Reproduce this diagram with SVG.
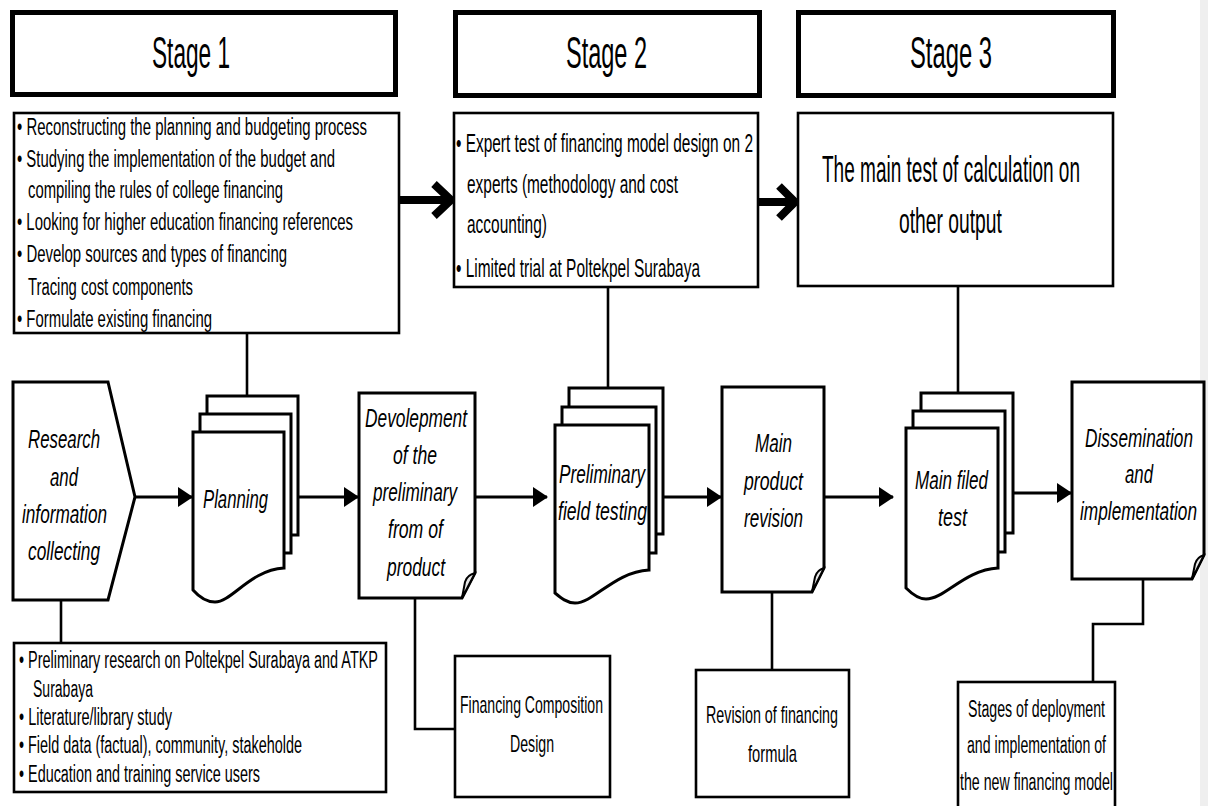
<svg xmlns="http://www.w3.org/2000/svg" width="1208" height="806" viewBox="0 0 1208 806">
<defs>
<style>
.hdr{fill:#fff;stroke:#000;stroke-width:5}
.box{fill:#fff;stroke:#000;stroke-width:2.6}
.shp{fill:#fff;stroke:#000;stroke-width:3;stroke-linejoin:miter}
.curl{fill:#e6e6e6;stroke:#000;stroke-width:2}
.ln{fill:none;stroke:#000;stroke-width:2.6}
.arr{fill:none;stroke:#000;stroke-width:3}
.thick{fill:none;stroke:#000;stroke-width:8;stroke-linejoin:miter}
text{font-family:"Liberation Sans Narrow","Liberation Sans",Arial,sans-serif;fill:#000}
text.ls{font-family:"Liberation Sans",Arial,sans-serif}
.st{font-size:45px}
.t1{font-size:23px}
.t2{font-size:26px}
.t3{font-size:36px}
.it{font-size:26px;font-style:italic}
.sm{font-size:24px}
</style>
<marker id="ah" markerUnits="userSpaceOnUse" markerWidth="15" markerHeight="20" refX="14" refY="10" orient="auto">
<path d="M0,0 L15,10 L0,20 Z" fill="#000"/>
</marker>
</defs>
<rect x="0" y="0" width="1208" height="806" fill="#fff"/>
<rect x="1200" y="0" width="8" height="806" fill="#efefef"/>

<g id="connectors">
<line class="ln" x1="247" y1="334" x2="247" y2="414"/>
<line class="ln" x1="608" y1="288" x2="608" y2="420"/>
<line class="ln" x1="958" y1="287" x2="958" y2="410"/>
<line class="ln" x1="61" y1="600" x2="61" y2="642"/>
<polyline class="ln" points="415,598 415,729 455,729"/>
<line class="ln" x1="772" y1="592" x2="772" y2="670"/>
<polyline class="ln" points="1143,579 1143,624 1093,624 1093,682"/>
<line class="arr" x1="135" y1="497" x2="192" y2="497" marker-end="url(#ah)"/>
<line class="arr" x1="298" y1="497" x2="358" y2="497" marker-end="url(#ah)"/>
<line class="arr" x1="475" y1="497" x2="547" y2="497" marker-end="url(#ah)"/>
<line class="arr" x1="656" y1="497" x2="721" y2="497" marker-end="url(#ah)"/>
<line class="arr" x1="824" y1="497" x2="893" y2="497" marker-end="url(#ah)"/>
<line class="arr" x1="1001" y1="493" x2="1071" y2="493" marker-end="url(#ah)"/>
<path class="thick" d="M400,200 H447"/>
<polyline class="thick" points="434,184 451,200 434,216"/>
<path class="thick" d="M759,202 H791"/>
<polyline class="thick" points="779,186 795,202 779,218"/>
</g>

<g id="stage1-header">
<rect class="hdr" x="12.5" y="12.5" width="383" height="82"/>
<text class="st" x="152" y="68" textLength="78" lengthAdjust="spacingAndGlyphs">Stage 1</text>
</g>
<g id="stage2-header">
<rect class="hdr" x="455.5" y="12.5" width="304" height="83"/>
<text class="st" x="566" y="68" textLength="81" lengthAdjust="spacingAndGlyphs">Stage 2</text>
</g>
<g id="stage3-header">
<rect class="hdr" x="798.5" y="12.5" width="315" height="83"/>
<text class="st" x="910" y="68" textLength="82" lengthAdjust="spacingAndGlyphs">Stage 3</text>
</g>

<g id="stage1-box">
<rect class="box" x="14" y="113" width="385" height="220"/>
<text class="t1" x="17" y="135" textLength="350" lengthAdjust="spacingAndGlyphs">• Reconstructing the planning and budgeting process</text>
<text class="t1" x="17" y="167" textLength="318" lengthAdjust="spacingAndGlyphs">• Studying the implementation of the budget and</text>
<text class="t1" x="28" y="198" textLength="255" lengthAdjust="spacingAndGlyphs">compiling the rules of college financing</text>
<text class="t1" x="17" y="230" textLength="336" lengthAdjust="spacingAndGlyphs">• Looking for higher education financing references</text>
<text class="t1" x="17" y="262" textLength="270" lengthAdjust="spacingAndGlyphs">• Develop sources and types of financing</text>
<text class="t1" x="28" y="295" textLength="165" lengthAdjust="spacingAndGlyphs">Tracing cost components</text>
<text class="t1" x="17" y="327" textLength="195" lengthAdjust="spacingAndGlyphs">• Formulate existing financing</text>
</g>

<g id="stage2-box">
<rect class="box" x="454" y="113" width="304" height="174"/>
<text class="t2" x="456" y="152" textLength="297" lengthAdjust="spacingAndGlyphs">• Expert test of financing model design on 2</text>
<text class="t2 ls" transform="translate(467,193) scale(0.59,1)" textLength="357.6" lengthAdjust="spacingAndGlyphs">experts (methodology and cost</text>
<text class="t2 ls" transform="translate(467,233) scale(0.6,1)" textLength="133.3" lengthAdjust="spacingAndGlyphs">accounting)</text>
<text class="t2" x="456" y="277" textLength="244" lengthAdjust="spacingAndGlyphs">• Limited trial at Poltekpel Surabaya</text>
</g>

<g id="stage3-box">
<rect class="box" x="798" y="113" width="315" height="173"/>
<text class="t3 ls" transform="translate(822,182) scale(0.53,1)" textLength="486.8" lengthAdjust="spacingAndGlyphs">The main test of calculation on</text>
<text class="t3 ls" transform="translate(899,233) scale(0.536,1)" textLength="192" lengthAdjust="spacingAndGlyphs">other output</text>
</g>

<g id="research">
<path class="shp" d="M13,382 H108 L135,497 L108,600 H13 Z"/>
<text class="it" x="28" y="448" textLength="72" lengthAdjust="spacingAndGlyphs">Research</text>
<text class="it" x="50" y="486" textLength="28" lengthAdjust="spacingAndGlyphs">and</text>
<text class="it" x="22" y="523" textLength="85" lengthAdjust="spacingAndGlyphs">information</text>
<text class="it" x="28" y="560" textLength="72" lengthAdjust="spacingAndGlyphs">collecting</text>
</g>

<g id="planning">
<path class="shp" d="M207,396 H298 V535 H207 Z"/>
<path class="shp" d="M200,414 H291 V553 H200 Z"/>
<path class="shp" d="M193,432 H284 V568 C250,570 232,602 215,602 C207,602 200,598 193,590 Z"/>
<text class="it" x="203" y="508" textLength="65" lengthAdjust="spacingAndGlyphs">Planning</text>
</g>

<g id="development">
<path class="shp" d="M359,393 H475 V573 L462,598 H359 Z"/>
<path class="curl" d="M475,573 L462,598 L465,582 Q467,575 475,573 Z"/>
<text class="it" x="365" y="427" textLength="102" lengthAdjust="spacingAndGlyphs">Devolepment</text>
<text class="it" x="393" y="464" textLength="44" lengthAdjust="spacingAndGlyphs">of the</text>
<text class="it" x="373" y="501" textLength="84" lengthAdjust="spacingAndGlyphs">preliminary</text>
<text class="it" x="388" y="538" textLength="55" lengthAdjust="spacingAndGlyphs">from of</text>
<text class="it" x="387" y="576" textLength="58" lengthAdjust="spacingAndGlyphs">product</text>
</g>

<g id="preliminary-field-testing">
<path class="shp" d="M569,388 H663 V534 H569 Z"/>
<path class="shp" d="M562,407 H656 V553 H562 Z"/>
<path class="shp" d="M555,425 H649 V570 C614,572 594,603 575,603 C567,603 561,598 555,593 Z"/>
<text class="it" x="559" y="483" textLength="86" lengthAdjust="spacingAndGlyphs">Preliminary</text>
<text class="it" x="558" y="520" textLength="89" lengthAdjust="spacingAndGlyphs">field testing</text>
</g>

<g id="main-product-revision">
<path class="shp" d="M722,387 H824 V568 L812,592 H722 Z"/>
<path class="curl" d="M824,568 L812,592 L815,577 Q817,570 824,568 Z"/>
<text class="it" x="755" y="452" textLength="37" lengthAdjust="spacingAndGlyphs">Main</text>
<text class="it" x="744" y="490" textLength="59" lengthAdjust="spacingAndGlyphs">product</text>
<text class="it" x="744" y="527" textLength="59" lengthAdjust="spacingAndGlyphs">revision</text>
</g>

<g id="main-filed-test">
<path class="shp" d="M921,393 H1013 V533 H921 Z"/>
<path class="shp" d="M913,411 H1005 V552 H913 Z"/>
<path class="shp" d="M906,428 H998 V568 C964,570 945,599 926,599 C918,599 912,594 906,588 Z"/>
<text class="it" x="915" y="489" textLength="73" lengthAdjust="spacingAndGlyphs">Main filed</text>
<text class="it" x="938" y="526" textLength="29" lengthAdjust="spacingAndGlyphs">test</text>
</g>

<g id="dissemination">
<path class="shp" d="M1072,382 H1204 V555 L1192,579 H1072 Z"/>
<path class="curl" d="M1204,555 L1192,579 L1195,564 Q1197,557 1204,555 Z"/>
<text class="it ls" transform="translate(1085,447) scale(0.66,1)" textLength="163.6" lengthAdjust="spacingAndGlyphs">Dissemination</text>
<text class="it" x="1125" y="483" textLength="28" lengthAdjust="spacingAndGlyphs">and</text>
<text class="it ls" transform="translate(1080,520) scale(0.66,1)" textLength="177.3" lengthAdjust="spacingAndGlyphs">implementation</text>
</g>

<g id="research-details">
<rect class="box" x="14" y="643" width="372" height="149"/>
<text class="t1" x="19" y="668" textLength="359" lengthAdjust="spacingAndGlyphs">• Preliminary research on Poltekpel Surabaya and ATKP</text>
<text class="t1" x="33" y="697" textLength="60" lengthAdjust="spacingAndGlyphs">Surabaya</text>
<text class="t1" x="19" y="725" textLength="153" lengthAdjust="spacingAndGlyphs">• Literature/library study</text>
<text class="t1" x="19" y="753" textLength="283" lengthAdjust="spacingAndGlyphs">• Field data (factual), community, stakeholde</text>
<text class="t1" x="19" y="782" textLength="241" lengthAdjust="spacingAndGlyphs">• Education and training service users</text>
</g>

<g id="financing-composition">
<rect class="box" x="455" y="656" width="155" height="141"/>
<text class="sm" x="460" y="713" textLength="143" lengthAdjust="spacingAndGlyphs">Financing Composition</text>
<text class="sm" x="510" y="752" textLength="44" lengthAdjust="spacingAndGlyphs">Design</text>
</g>

<g id="revision-formula">
<rect class="box" x="696" y="670" width="153" height="127"/>
<text class="sm" x="706" y="723" textLength="132" lengthAdjust="spacingAndGlyphs">Revision of financing</text>
<text class="sm" x="748" y="762" textLength="49" lengthAdjust="spacingAndGlyphs">formula</text>
</g>

<g id="deployment-stages">
<rect class="box" x="958" y="682" width="157" height="130"/>
<text class="t1" x="968" y="717" textLength="137" lengthAdjust="spacingAndGlyphs">Stages of deployment</text>
<text class="t1" x="967" y="753" textLength="139" lengthAdjust="spacingAndGlyphs">and implementation of</text>
<text class="t1" x="960" y="790" textLength="153" lengthAdjust="spacingAndGlyphs">the new financing model</text>
</g>
</svg>
